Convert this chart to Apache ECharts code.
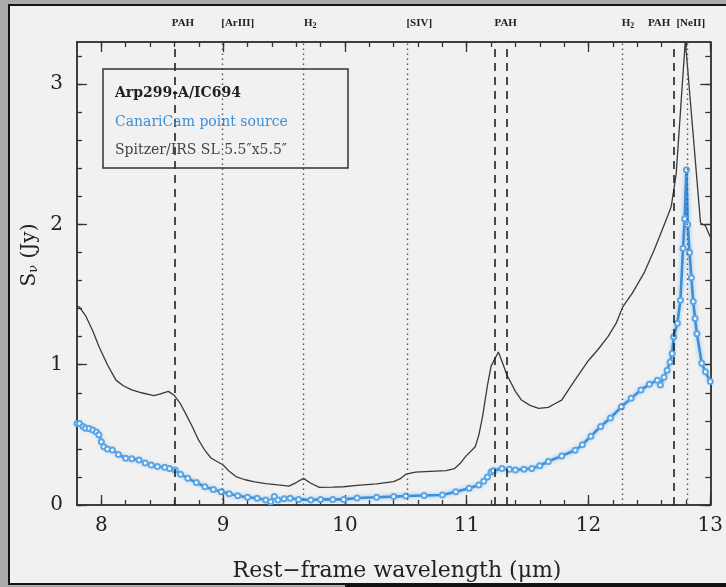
<!DOCTYPE html>
<html>
<head>
<meta charset="utf-8">
<script src="https://cdn.jsdelivr.net/npm/echarts@6/dist/echarts.min.js"></script>
<style>
  html, body { margin: 0; padding: 0; background: #ababab; }
  #chart { width: 726px; height: 587px; }
</style>
</head>
<body>
<div id="chart"></div>
<script>
// Spitzer/IRS SL spectrum (rest-frame wavelength in micron, flux density in Jy)
const spitzerWave = [7.80, 7.82, 7.87, 7.93, 7.98, 8.05, 8.12, 8.18, 8.25, 8.33, 8.43, 8.48, 8.55, 8.60,
  8.65, 8.69, 8.74, 8.80, 8.85, 8.90, 8.95, 9.00, 9.05, 9.11, 9.18, 9.26, 9.35, 9.45, 9.54, 9.60, 9.66,
  9.72, 9.79, 9.90, 9.99, 10.10, 10.26, 10.40, 10.46, 10.50, 10.58, 10.70, 10.83, 10.90, 10.95, 10.99,
  11.07, 11.10, 11.13, 11.17, 11.20, 11.23, 11.26, 11.30, 11.33, 11.40, 11.45, 11.52, 11.59, 11.67,
  11.72, 11.78, 11.88, 12.00, 12.08, 12.16, 12.23, 12.28, 12.36, 12.46, 12.54, 12.60, 12.65, 12.68,
  12.72, 12.795, 12.92, 12.96, 13.00];
const spitzerFlux = [1.42, 1.41, 1.35, 1.24, 1.13, 1.00, 0.89, 0.85, 0.82, 0.80, 0.78, 0.79, 0.81, 0.78,
  0.72, 0.655, 0.57, 0.46, 0.39, 0.335, 0.31, 0.285, 0.24, 0.20, 0.18, 0.165, 0.153, 0.143, 0.135, 0.16, 0.19,
  0.155, 0.126, 0.128, 0.13, 0.14, 0.15, 0.166, 0.19, 0.22, 0.235, 0.24, 0.245, 0.26, 0.30, 0.345,
  0.415, 0.50, 0.63, 0.85, 0.99, 1.04, 1.09, 1.00, 0.927, 0.81, 0.748, 0.71, 0.689, 0.696,
  0.72, 0.748, 0.88, 1.03, 1.11, 1.20, 1.30, 1.41, 1.51, 1.66, 1.82, 1.95, 2.06, 2.13,
  2.36, 3.31, 2.01, 1.99, 1.91];

// CanariCam point-source spectrum
const canariWave = [7.80, 7.82, 7.85, 7.87, 7.90, 7.93, 7.96, 7.98, 8.00, 8.02, 8.05, 8.09, 8.14, 8.20,
  8.25, 8.31, 8.36, 8.41, 8.46, 8.52, 8.56, 8.605, 8.65, 8.71, 8.78, 8.85, 8.92, 8.985, 9.05, 9.12, 9.20,
  9.28, 9.35, 9.39, 9.42, 9.45, 9.50, 9.55, 9.62, 9.72, 9.80, 9.90, 9.99, 10.10, 10.26, 10.40, 10.50,
  10.65, 10.80, 10.91, 11.02, 11.10, 11.14, 11.17, 11.20, 11.22, 11.29, 11.35, 11.40, 11.47, 11.535,
  11.60, 11.67, 11.78, 11.89, 11.95, 12.02, 12.10, 12.18, 12.27, 12.35, 12.43, 12.50, 12.565, 12.59,
  12.62, 12.646, 12.67, 12.687, 12.70, 12.73, 12.755, 12.776, 12.79, 12.804, 12.815, 12.83, 12.845,
  12.86, 12.875, 12.89, 12.93, 12.96, 13.00];
const canariFlux = [0.58, 0.58, 0.56, 0.547, 0.545, 0.535, 0.52, 0.50, 0.45, 0.415, 0.40, 0.392, 0.36, 0.333,
  0.33, 0.32, 0.30, 0.285, 0.275, 0.269, 0.26, 0.249, 0.22, 0.19, 0.16, 0.13, 0.11, 0.095, 0.08, 0.066, 0.055,
  0.048, 0.035, 0.024, 0.06, 0.035, 0.045, 0.048, 0.04, 0.036, 0.04, 0.04, 0.04, 0.05, 0.055, 0.06, 0.064,
  0.068, 0.071, 0.095, 0.119, 0.143, 0.17, 0.20, 0.235, 0.245, 0.26, 0.255, 0.25, 0.255, 0.26,
  0.28, 0.31, 0.35, 0.39, 0.43, 0.49, 0.56, 0.62, 0.70, 0.76, 0.82, 0.86, 0.89, 0.855,
  0.91, 0.96, 1.02, 1.08, 1.20, 1.295, 1.46, 1.83, 2.04, 2.39, 2.00, 1.80, 1.62,
  1.45, 1.33, 1.22, 1.01, 0.95, 0.88];

// Axis ticks
const xMajorTicks = [8, 9, 10, 11, 12, 13];
const xMinorTicks = [8.0, 8.2, 8.4, 8.6, 8.8, 9.0, 9.2, 9.4, 9.6, 9.8, 10.0, 10.2, 10.4, 10.6, 10.8,
  11.0, 11.2, 11.4, 11.6, 11.8, 12.0, 12.2, 12.4, 12.6, 12.8, 13.0];
const yMajorTicks = [0, 1, 2, 3];
const yMinorTicks = [0, 0.2, 0.4, 0.6, 0.8, 1.0, 1.2, 1.4, 1.6, 1.8, 2.0, 2.2, 2.4, 2.6, 2.8, 3.0, 3.2];

// Spectral features: PAH bands (dashed) and atomic/molecular lines (dotted)
const pahLines = [8.60, 11.23, 11.33, 12.70];
const ionLines = [8.99, 9.66, 10.51, 12.28, 12.81];
const featureNames = ['PAH', '[ArIII]', 'H2', '[SIV]', 'PAH', 'H2', 'PAH', '[NeII]'];
const featureLabelWave = [8.67, 9.12, 9.715, 10.61, 11.32, 12.325, 12.58, 12.84];

const legendLines = ['Arp299-A/IC694', 'CanariCam point source', 'Spitzer/IRS SL 5.5\u2033x5.5\u2033'];

const X_MIN = 7.8, X_MAX = 13.0, Y_MIN = 0, Y_MAX = 3.3;
const FRAME = '#333333';
const SERIF = '"DejaVu Serif", "Liberation Serif", serif';

const pair = (xs, ys) => xs.map((x, i) => [x, ys[i]]);

function xAxisDef(position, ticks, len, withLabels) {
  return {
    type: 'value', min: X_MIN, max: X_MAX, position: position,
    axisLine: { show: true, onZero: false, lineStyle: { color: FRAME, width: 1.5 } },
    axisTick: { show: true, inside: true, length: len, customValues: ticks,
      lineStyle: { color: FRAME, width: 1.3 } },
    axisLabel: withLabels
      ? { show: true, customValues: xMajorTicks, margin: 11, color: '#222',
          fontFamily: SERIF, fontSize: 20 }
      : { show: false },
    splitLine: { show: false }
  };
}
function yAxisDef(position, ticks, len, withLabels) {
  return {
    type: 'value', min: Y_MIN, max: Y_MAX, position: position,
    axisLine: { show: true, onZero: false, lineStyle: { color: FRAME, width: 1.5 } },
    axisTick: { show: true, inside: true, length: len, customValues: ticks,
      lineStyle: { color: FRAME, width: 1.3 } },
    axisLabel: withLabels
      ? { show: true, customValues: yMajorTicks, margin: 14, color: '#222',
          fontFamily: SERIF, fontSize: 20 }
      : { show: false },
    splitLine: { show: false }
  };
}

const chart = echarts.init(document.getElementById('chart'), null, { renderer: 'canvas' });

const markLineData = pahLines.map(v => ({
  xAxis: v, lineStyle: { type: [8, 6], color: '#222', width: 1.6 }
})).concat(ionLines.map(v => ({
  xAxis: v, lineStyle: { type: [1.5, 3.5], color: '#555', width: 1.4 }
})));

chart.setOption({
  backgroundColor: '#ababab',
  animation: false,
  grid: { left: 77, right: 9, top: 42, bottom: 82, containLabel: false },
  xAxis: [
    xAxisDef('bottom', xMajorTicks, 10, true),
    xAxisDef('bottom', xMinorTicks, 5, false),
    xAxisDef('top', xMajorTicks, 10, false),
    xAxisDef('top', xMinorTicks, 5, false)
  ],
  yAxis: [
    yAxisDef('left', yMajorTicks, 10, true),
    yAxisDef('left', yMinorTicks, 5, false),
    yAxisDef('right', yMajorTicks, 10, false),
    yAxisDef('right', yMinorTicks, 5, false)
  ],
  series: [
    {
      name: 'Spitzer/IRS SL', type: 'line', xAxisIndex: 0, yAxisIndex: 0,
      data: pair(spitzerWave, spitzerFlux), showSymbol: false, clip: true, z: 3,
      lineStyle: { color: '#3a3a3a', width: 1.3 },
      markLine: {
        silent: true, symbol: ['none', 'none'], label: { show: false },
        emphasis: { disabled: true }, data: markLineData
      }
    },
    {
      name: 'CanariCam', type: 'line', xAxisIndex: 0, yAxisIndex: 0,
      data: pair(canariWave, canariFlux), clip: true, z: 4,
      symbol: 'emptyCircle', symbolSize: 5, showSymbol: true,
      itemStyle: { color: '#5aa6e6', borderWidth: 1 },
      lineStyle: { color: '#3b8fd9', width: 2.6, shadowColor: 'rgba(80,160,230,0.6)', shadowBlur: 4 }
    }
  ]
});

// Frame, legend box and annotation texts
const px = w => chart.convertToPixel({ xAxisIndex: 0 }, w);
const featureTexts = featureNames.map((name, i) => ({
  type: 'text', z: 50, x: px(featureLabelWave[i]), y: 23,
  style: {
    text: name === 'H2' ? '{n|H}{s|2}' : '{n|' + name + '}',
    rich: {
      n: { fontFamily: '"Liberation Serif", serif', fontWeight: 'bold', fontSize: 11, fill: '#222' },
      s: { fontFamily: '"Liberation Serif", serif', fontWeight: 'bold', fontSize: 8, fill: '#222', padding: [5, 0, 0, 0] }
    },
    align: 'center', verticalAlign: 'middle'
  }
}));

chart.setOption({
  graphic: [
    { type: 'rect', z: -100, silent: true, shape: { x: 9, y: 5, width: 730, height: 579 },
      style: { fill: '#f1f1f1', stroke: '#151515', lineWidth: 2 } },
    { type: 'rect', z: -99, silent: true, shape: { x: 345, y: 584, width: 381, height: 3 },
      style: { fill: '#111' } },
    { type: 'rect', z: 50, silent: true, shape: { x: 103, y: 69, width: 245, height: 99 },
      style: { fill: 'transparent', stroke: '#333', lineWidth: 1.5 } },
    { type: 'text', z: 51, x: 115, y: 93, style: { text: legendLines[0], fontFamily: SERIF,
      fontWeight: 'bold', fontSize: 14, fill: '#222', verticalAlign: 'middle' } },
    { type: 'text', z: 51, x: 115, y: 122, style: { text: legendLines[1], fontFamily: SERIF,
      fontSize: 14, fill: '#3b8fd9', verticalAlign: 'middle' } },
    { type: 'text', z: 51, x: 115, y: 150, style: { text: legendLines[2], fontFamily: SERIF,
      fontSize: 14, fill: '#444', verticalAlign: 'middle' } },
    { type: 'text', z: 51, x: 397, y: 571, style: { text: 'Rest\u2212frame wavelength (\u03bcm)',
      fontFamily: SERIF, fontSize: 22, fill: '#222', align: 'center', verticalAlign: 'middle' } },
    { type: 'text', z: 51, x: 30, y: 255, rotation: Math.PI / 2,
      style: { text: '{a|S}{s|\u03bd}{a| (Jy)}', align: 'center', verticalAlign: 'middle',
        rich: { a: { fontFamily: SERIF, fontSize: 20, fill: '#222' },
                s: { fontFamily: SERIF, fontSize: 13, fill: '#222', padding: [8, 0, 0, 0] } } } }
  ].concat(featureTexts)
});
</script>
</body>
</html>
